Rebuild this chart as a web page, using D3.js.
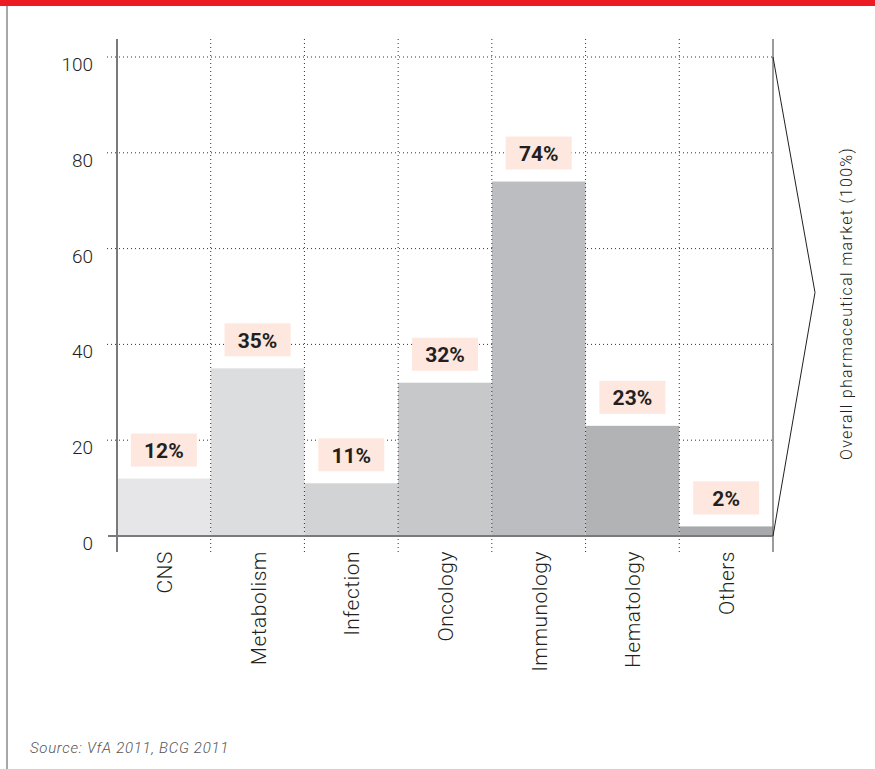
<!DOCTYPE html>
<html>
<head>
<meta charset="utf-8">
<script src="https://cdn.jsdelivr.net/npm/d3@7"></script>
<style>
  body { margin: 0; background: #fff; }
  svg { display: block; font-family: Roboto, "Liberation Sans", sans-serif; }
</style>
</head>
<body>
<div id="chart"></div>
<script>
// chart data
const categories = ["CNS", "Metabolism", "Infection", "Oncology", "Immunology", "Hematology", "Others"];
const shares = [12, 35, 11, 32, 74, 23, 2];
const yTicks = [0, 20, 40, 60, 80, 100];
const barColors = ["#e6e6e8", "#dcdddf", "#d2d3d5", "#c7c8ca", "#bcbdc0", "#b2b3b5", "#a8a9ac"];
const sideLabel = "Overall pharmaceutical market (100%)";
const sourceText = "Source: VfA 2011, BCG 2011";

const W = 875, H = 769;
const plot = { left: 117, right: 773, top: 57, bottom: 536 };

const svg = d3.select("#chart").append("svg")
  .attr("width", W)
  .attr("height", H);

const x = d3.scaleBand()
  .domain(categories)
  .range([plot.left, plot.right])
  .padding(0);

const y = d3.scaleLinear()
  .domain([0, 100])
  .range([plot.bottom, plot.top]);

// red header + left frame line
svg.append("rect")
  .attr("x", 0).attr("y", 0)
  .attr("width", W).attr("height", 6)
  .attr("fill", "#ed1c24");

svg.append("line")
  .attr("x1", 7).attr("x2", 7)
  .attr("y1", 6).attr("y2", H)
  .attr("stroke", "#8a8a8a")
  .attr("stroke-width", 1.5);

// horizontal dotted gridlines (behind bars)
svg.append("g")
  .selectAll("line")
  .data(yTicks.filter(d => d > 0))
  .join("line")
  .attr("x1", 107)
  .attr("x2", plot.right)
  .attr("y1", d => y(d))
  .attr("y2", d => y(d))
  .attr("stroke", "#333")
  .attr("stroke-width", 1)
  .attr("stroke-dasharray", "1,3");

// bars
svg.append("g")
  .selectAll("rect")
  .data(categories)
  .join("rect")
  .attr("x", d => x(d))
  .attr("width", x.bandwidth())
  .attr("y", (d, i) => y(shares[i]))
  .attr("height", (d, i) => y(0) - y(shares[i]))
  .attr("fill", (d, i) => barColors[i]);

// vertical dotted gridlines between categories
svg.append("g")
  .selectAll("line")
  .data(categories.slice(1))
  .join("line")
  .attr("x1", d => x(d))
  .attr("x2", d => x(d))
  .attr("y1", 39)
  .attr("y2", 553)
  .attr("stroke", "#333")
  .attr("stroke-width", 1)
  .attr("stroke-dasharray", "1,3");

// y axis line, baseline, right line
svg.append("line")
  .attr("x1", plot.left).attr("x2", plot.left)
  .attr("y1", 39).attr("y2", 552)
  .attr("stroke", "#7a7a7a")
  .attr("stroke-width", 2);

svg.append("line")
  .attr("x1", 108).attr("x2", plot.right)
  .attr("y1", y(0)).attr("y2", y(0))
  .attr("stroke", "#7a7a7a")
  .attr("stroke-width", 2);

svg.append("line")
  .attr("x1", plot.right).attr("x2", plot.right)
  .attr("y1", 39).attr("y2", 552)
  .attr("stroke", "#7a7a7a")
  .attr("stroke-width", 1.5);

// y tick labels (hang below gridline)
svg.append("g")
  .selectAll("text")
  .data(yTicks)
  .join("text")
  .attr("x", 93)
  .attr("y", d => y(d) + 14)
  .attr("text-anchor", "end")
  .attr("font-size", 19)
  .attr("font-weight", 300)
  .attr("fill", "#231f20")
  .text(d => d);

// value labels with pink boxes
const boxW = 66, boxH = 33;
const labels = svg.append("g")
  .selectAll("g")
  .data(categories)
  .join("g")
  .attr("transform", (d, i) =>
    `translate(${x(d) + x.bandwidth() / 2}, ${y(shares[i]) - 12 - boxH})`);

labels.append("rect")
  .attr("x", -boxW / 2)
  .attr("y", 0)
  .attr("width", boxW)
  .attr("height", boxH)
  .attr("fill", "#fde7de");

labels.append("text")
  .attr("x", 0)
  .attr("y", boxH / 2 + 8)
  .attr("text-anchor", "middle")
  .attr("font-size", 21)
  .attr("font-weight", "bold")
  .attr("fill", "#231f20")
  .text((d, i) => shares[i] + "%");

// category labels, rotated
svg.append("g")
  .selectAll("text")
  .data(categories)
  .join("text")
  .attr("transform", d => `translate(${x(d) + x.bandwidth() / 2 + 8}, 551) rotate(-90)`)
  .attr("text-anchor", "end")
  .attr("font-size", 21)
  .attr("font-weight", 300)
  .attr("fill", "#231f20")
  .attr("letter-spacing", 0.5)
  .text(d => d);

// bracket to the total market
const bracket = d3.line()([
  [plot.right, y(100)],
  [815, (y(100) + y(0)) / 2 - 4],
  [plot.right, y(0)]
]);
svg.append("path")
  .attr("d", bracket)
  .attr("fill", "none")
  .attr("stroke", "#231f20")
  .attr("stroke-width", 1);

svg.append("text")
  .attr("transform", `translate(852, ${(y(100) + y(0)) / 2 + 7}) rotate(-90)`)
  .attr("text-anchor", "middle")
  .attr("font-size", 16)
  .attr("font-weight", 300)
  .attr("letter-spacing", 1.3)
  .attr("fill", "#231f20")
  .text(sideLabel);

// source
svg.append("text")
  .attr("x", 30)
  .attr("y", 753)
  .attr("font-size", 15)
  .attr("font-style", "italic")
  .attr("font-weight", 300)
  .attr("letter-spacing", 0.7)
  .attr("fill", "#555")
  .text(sourceText);
</script>
</body>
</html>
